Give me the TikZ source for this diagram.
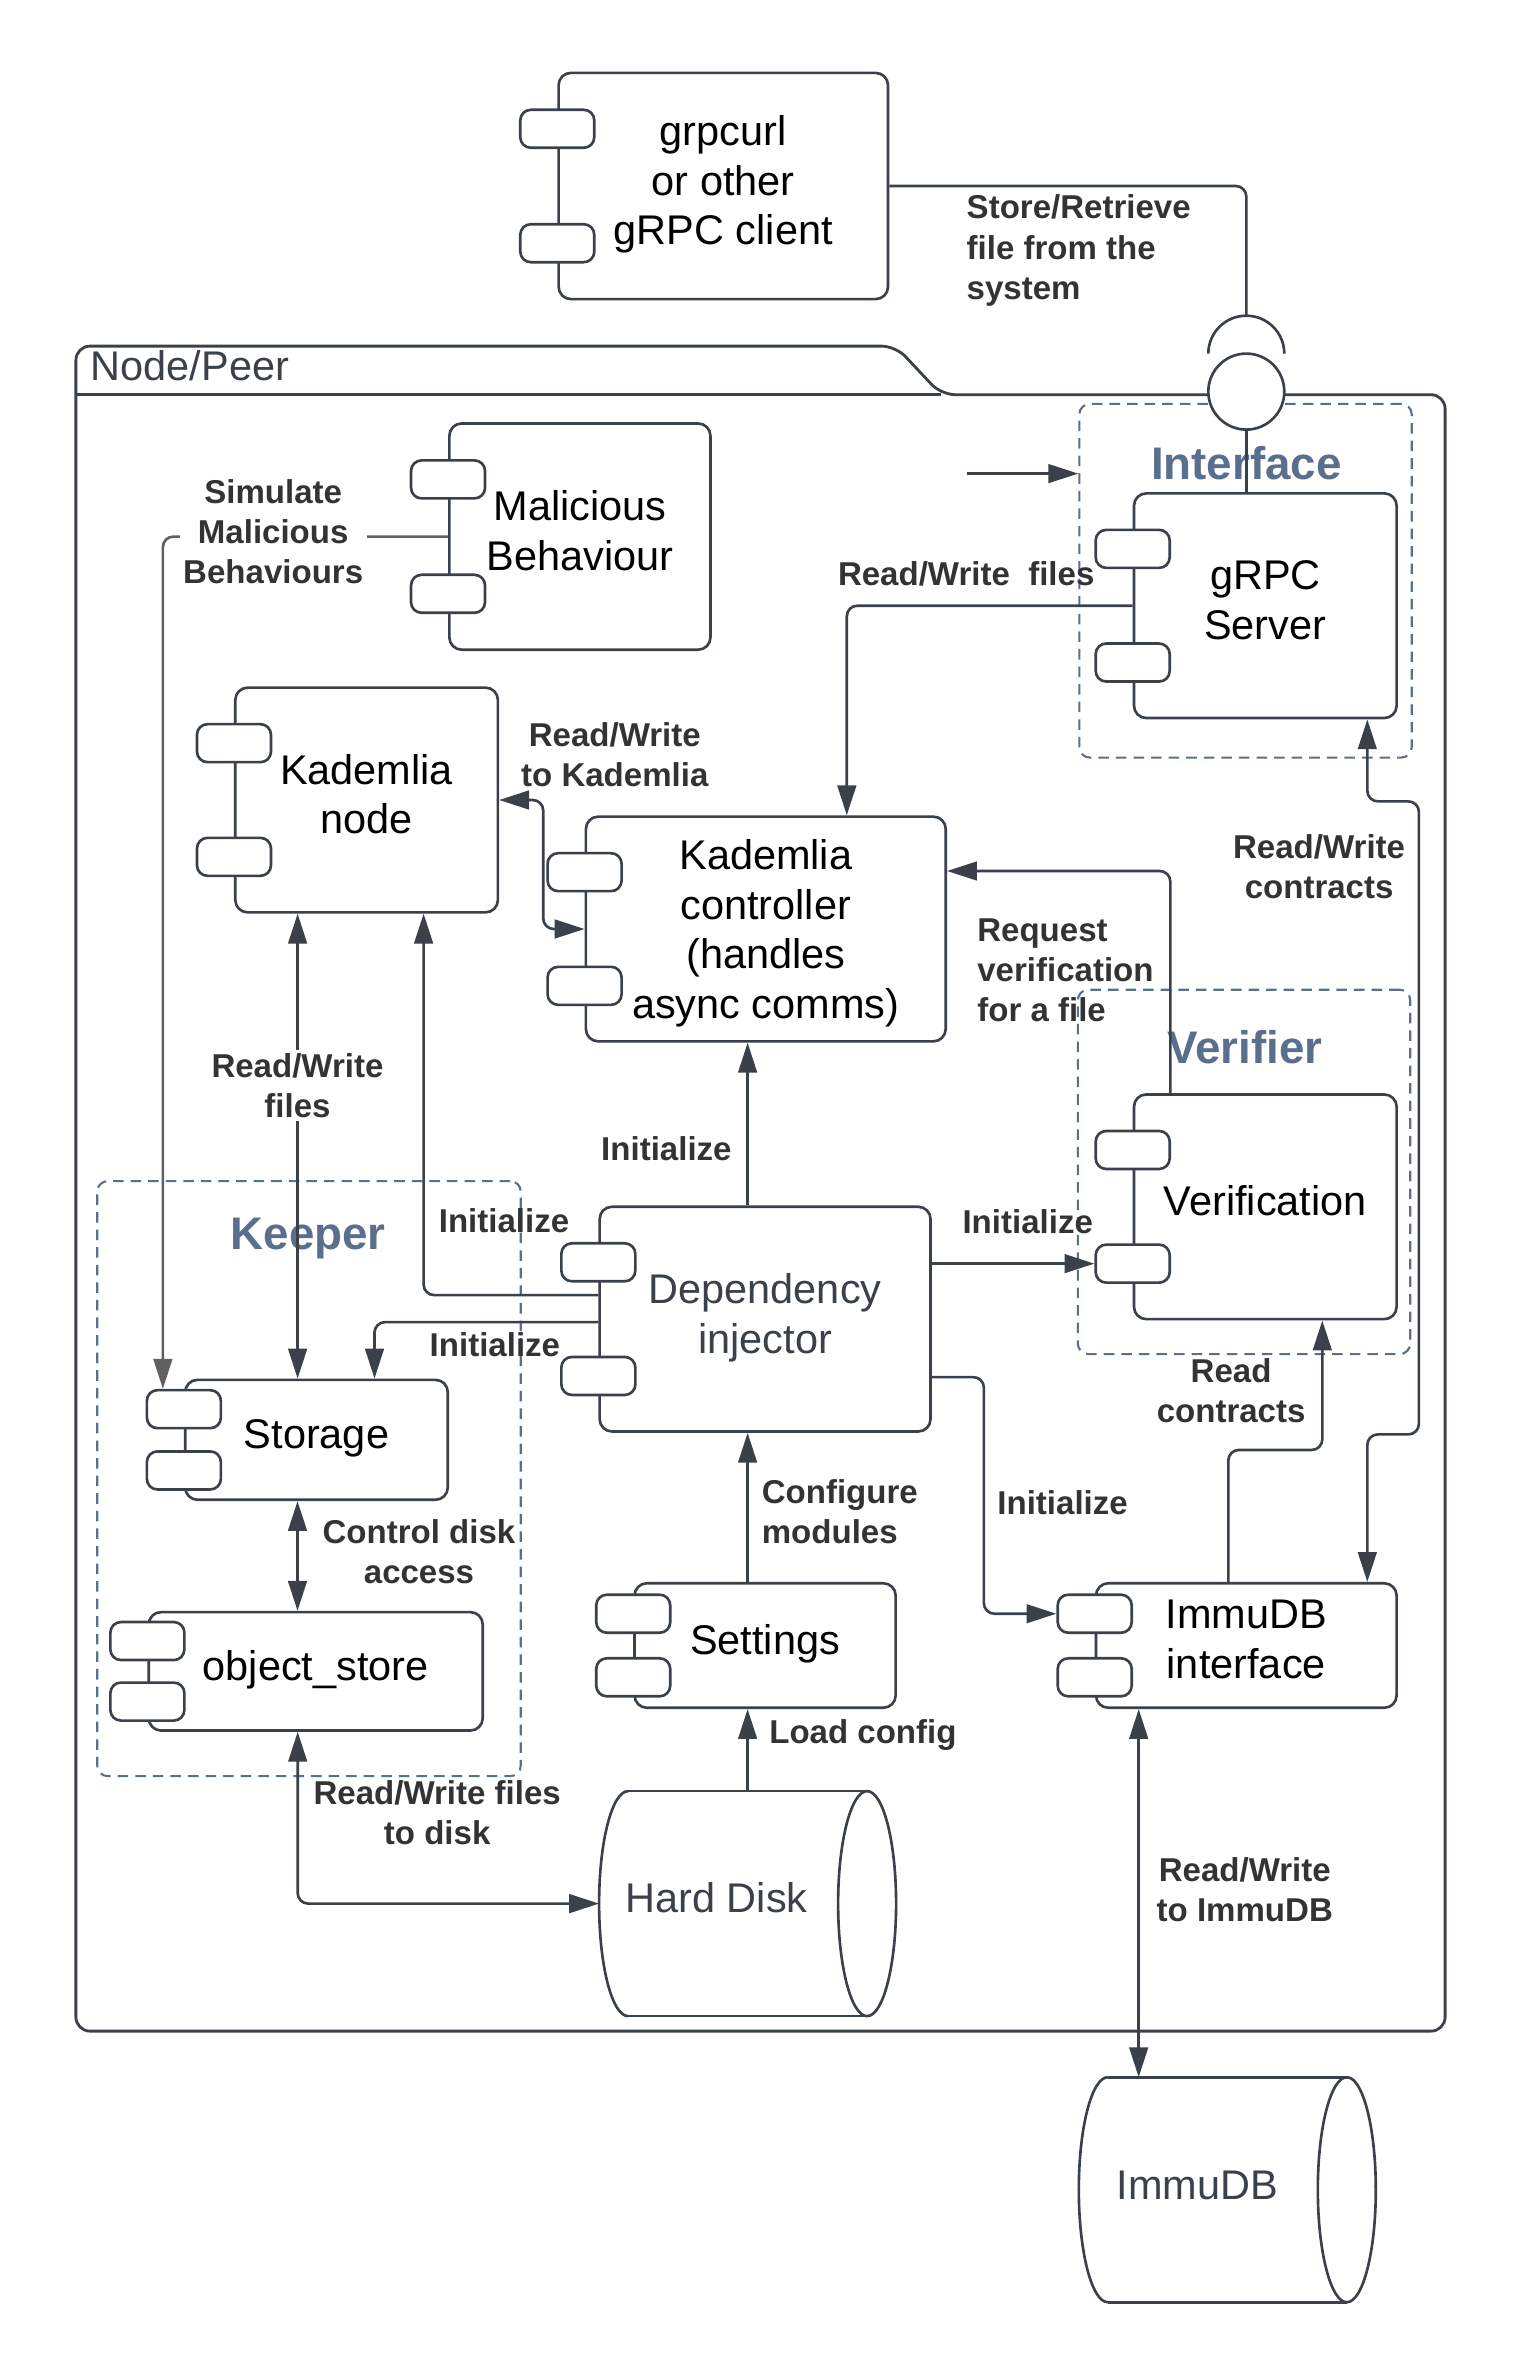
\documentclass[tikz,border=0pt]{standalone}
\usepackage{fontspec}
\setmainfont{Liberation Sans}
\usetikzlibrary{arrows.meta,positioning,calc}
\definecolor{linedark}{HTML}{3A414A}
\definecolor{lbltext}{HTML}{333333}
\definecolor{grpblue}{HTML}{5A6E8E}
\definecolor{simgray}{HTML}{606060}

% two ports on the left edge of a component
\newcommand{\ports}[1]{%
  \node[port] (#1p1) at ($(#1.north west)!0.25!(#1.south west)$) {};
  \node[port] (#1p2) at ($(#1.north west)!0.75!(#1.south west)$) {};}

% cylinder lying on its side, drawn round a node
\newcommand{\drum}[1]{%
  \draw[line] ([xshift=0.29cm]#1.north west) -- ([xshift=-0.29cm]#1.north east);
  \draw[line] ([xshift=0.29cm]#1.south west) -- ([xshift=-0.29cm]#1.south east);
  \draw[line] ([xshift=-0.29cm]#1.east) ellipse [x radius=0.29cm,y radius=1.125cm];
  \draw[line] ([xshift=0.29cm]#1.north west) arc[start angle=90,end angle=270,x radius=0.29cm,y radius=1.125cm];}

\begin{document}
\begin{tikzpicture}[
  line/.style={draw=linedark,line width=0.75pt},
  comp/.style={line,rounded corners=3.5pt,fill=white,align=center,inner sep=2pt,text depth=0.12cm,font=\fontsize{11.8}{14.2}\selectfont},
  port/.style={line,fill=white,rounded corners=3pt,minimum width=0.74cm,minimum height=0.38cm,inner sep=0pt},
  arr/.style={line,rounded corners=3pt,-{Triangle[length=8.5pt,width=5.3pt]}},
  arrboth/.style={line,rounded corners=3pt,{Triangle[length=8.5pt,width=5.3pt]}-{Triangle[length=8.5pt,width=5.3pt]}},
  lbl/.style={font=\fontsize{9.4}{11.4}\selectfont\bfseries,text=lbltext,align=center,inner sep=1pt},
  grp/.style={draw=grpblue,line width=0.6pt,dash pattern=on 3pt off 2pt,rounded corners=3pt,inner sep=0pt},
  grptitle/.style={font=\fontsize{13}{15}\selectfont\bfseries,text=grpblue,inner sep=0pt},
  db/.style={inner sep=0pt,outer sep=0pt,minimum width=2.97cm,minimum height=2.25cm},
  dbtext/.style={font=\fontsize{11.8}{14.2}\selectfont,text=linedark,inner sep=0pt}
]
\useasboundingbox (0,0) rectangle (15.21,-23.79);

% Node/Peer frame
\draw[line,line width=0.8pt,rounded corners=4pt] (0.759,-3.947) -- (0.759,-3.461) -- (8.956,-3.461) -- (9.412,-3.947)
  -- (14.451,-3.947) -- (14.451,-20.311) -- (0.759,-20.311) -- cycle;
\draw[line,line width=0.8pt] (0.759,-3.947) -- (9.412,-3.947);
\node[font=\fontsize{11.8}{14.2}\selectfont,text=linedark,anchor=west,inner sep=0pt] (peer) at (0.90,-3.658) {Node/Peer};

% groups
\node[grp,minimum width=3.324cm,minimum height=3.537cm] (ifacegrp) at (12.455,-5.807) {};
\node[grp,minimum width=3.324cm,minimum height=3.644cm] (verigrp) at (12.440,-11.719) {};
\node[grp,minimum width=4.235cm,minimum height=5.951cm] (keepgrp) at (3.090,-14.786) {};
\node[grptitle] (ifacettl) at (12.463,-4.630) {Interface};
\node[grptitle] (verittl) at (12.448,-10.474) {Verifier};
\node[grptitle] (keepttl) at (3.082,-12.387) {Keeper};

% components
\node[comp,minimum width=3.294cm,minimum height=2.262cm] (client) at (7.233,-1.860) {grpcurl\\or other\\gRPC client};
\node[comp,minimum width=2.611cm,minimum height=2.262cm] (malicious) at (5.799,-5.366) {Malicious\\Behaviour};
\node[comp,minimum width=2.626cm,minimum height=2.247cm] (server) at (12.653,-6.057) {gRPC\\Server};
\node[comp,minimum width=2.626cm,minimum height=2.247cm] (kadnode) at (3.666,-8.000) {Kademlia\\node};
\node[comp,text depth=0pt,minimum width=3.598cm,minimum height=2.247cm] (kadctrl) at (7.658,-9.290) {Kademlia\\controller\\(handles\\async comms)};
\node[comp,minimum width=2.626cm,minimum height=2.247cm] (verif) at (12.653,-12.068) {Verification};
\node[comp,text=linedark,minimum width=3.309cm,minimum height=2.247cm] (dep) at (7.651,-13.191) {Dependency\\injector};
\node[comp,minimum width=2.626cm,minimum height=1.199cm] (storage) at (3.165,-14.398) {Storage};
\node[comp,minimum width=3.340cm,minimum height=1.184cm] (objstore) at (3.157,-16.713) {object\_store};
\node[comp,minimum width=2.611cm,minimum height=1.245cm] (settings) at (7.651,-16.455) {Settings};
\node[comp,minimum width=3.006cm,minimum height=1.245cm] (immuif) at (12.463,-16.455) {ImmuDB\\interface};
\ports{client}
\ports{malicious}
\ports{server}
\ports{kadnode}
\ports{kadctrl}
\ports{verif}
\ports{dep}
\ports{storage}
\ports{objstore}
\ports{settings}
\ports{immuif}

% disks
\node[db] (hd) at (7.476,-19.036) {};
\drum{hd}
\node[dbtext] (hdname) at ($(hd.center)+(-0.31,0.06)$) {Hard Disk};
\node[db] (immudb) at (12.273,-21.897) {};
\drum{immudb}
\node[dbtext] (immudbname) at ($(immudb.center)+(-0.30,0.04)$) {ImmuDB};

% ball and socket of the interface
\coordinate (sock) at (12.463,-3.537);
\coordinate (socktop) at (12.463,-3.157);
\draw[line] ([xshift=-0.38cm]sock) arc[start angle=180,end angle=0,radius=0.38cm];
\node[line,circle,fill=white,minimum size=0.76cm,inner sep=0pt] (ball) at (12.463,-3.916) {};

% connectors
\draw[line,rounded corners=3pt] (client.east) -| (socktop);
\draw[line] (ball.south) -- (ball.south |- server.north);
\coordinate (ifacein) at (9.670,-4.736);
\draw[arr] (ifacein) -- (ifacein -| ifacegrp.west);
\draw[arr] (server.west) -| ([xshift=0.81cm]kadctrl.north);
\draw[arr,draw=simgray] (malicious.west) -| ([xshift=-0.21cm]storagep1.north);
\draw[arrboth] (kadnode.east) -- ++(0.44,0) |- (kadctrl.west);
\draw[arrboth] ([xshift=-0.69cm]kadnode.south) -- ([xshift=-0.69cm]kadnode.south |- storage.north);
\draw[arrboth] ([xshift=-0.19cm]storage.south) -- ([xshift=-0.19cm]storage.south |- objstore.north);
\draw[arrboth] ([xshift=-0.18cm]objstore.south) |- (hd.west);
\draw[arr] (dep.north -| hd.north) -- (kadctrl.south -| hd.north);
\draw[arr] ([yshift=0.24cm]dep.west) -| ([xshift=0.57cm]kadnode.south);
\draw[arr] ([yshift=-0.03cm]dep.west) -| ([xshift=0.58cm]storage.north);
\draw[arr] (dep.east |- verifp2.west) -- (verifp2.west);
\draw[arr] ([yshift=-0.58cm]dep.east) -- ++(0.52,0) |- (immuifp1.west);
\draw[arr] (settings.north -| hd.north) -- (dep.south -| hd.north);
\draw[arr] (hd.north) -- (settings.south -| hd.north);
\draw[arr] ([xshift=-0.95cm]verif.north) |- ([yshift=0.58cm]kadctrl.east);
\draw[arr] ([xshift=-0.18cm]immuif.north) -- ++(0,1.32) -| ([xshift=0.57cm]verif.south);
\draw[arrboth] ([xshift=1.02cm]server.south) -- ++(0,-0.82) -- ++(0.516,0) -- ++(0,-6.33) -| ([xshift=1.21cm]immuif.north);
\draw[arrboth] ([xshift=0.44cm]immuif.south west) -- ([xshift=0.44cm]immuif.south west |- immudb.north);

% labels
\node[lbl,align=left,anchor=west] (lblstore) at (9.625,-2.505) {Store/Retrieve\\file from the\\system};
\node[lbl] (lblrwfiles) at (9.662,-5.738) {Read/Write\ \ files};
\node[lbl,fill=white] (lblsim) at (2.732,-5.313) {Simulate\\Malicious\\Behaviours};
\node[lbl] (lblrwkad) at (6.148,-7.544) {Read/Write\\to Kademlia};
\node[lbl,fill=white] (lblkadfiles) at (2.975,-10.854) {Read/Write\\files};
\node[lbl] (lblinitctrl) at (6.664,-11.491) {Initialize};
\node[lbl] (lblinitnode) at (5.040,-12.205) {Initialize};
\node[lbl] (lblinitstor) at (4.949,-13.449) {Initialize};
\node[lbl] (lblinitver) at (10.277,-12.220) {Initialize};
\node[lbl] (lblinitimmu) at (10.626,-15.028) {Initialize};
\node[lbl,align=left,anchor=west] (lblconf) at (7.576,-15.119) {Configure\\modules};
\node[lbl,anchor=west] (lblload) at (7.651,-17.351) {Load config};
\node[lbl,align=left,anchor=west] (lblreq) at (9.731,-9.700) {Request\\verification\\for a file};
\node[lbl] (lblrwcon) at (13.191,-8.668) {Read/Write\\contracts};
\node[lbl] (lblreadcon) at (12.311,-13.905) {Read\\contracts};
\node[lbl] (lblrwimmu) at (12.448,-18.899) {Read/Write\\to ImmuDB};
\node[lbl] (lbldisk) at (4.190,-15.514) {Control disk\\access};
\node[lbl] (lblrwdisk) at (4.372,-18.125) {Read/Write files\\to disk};
\end{tikzpicture}
\end{document}
